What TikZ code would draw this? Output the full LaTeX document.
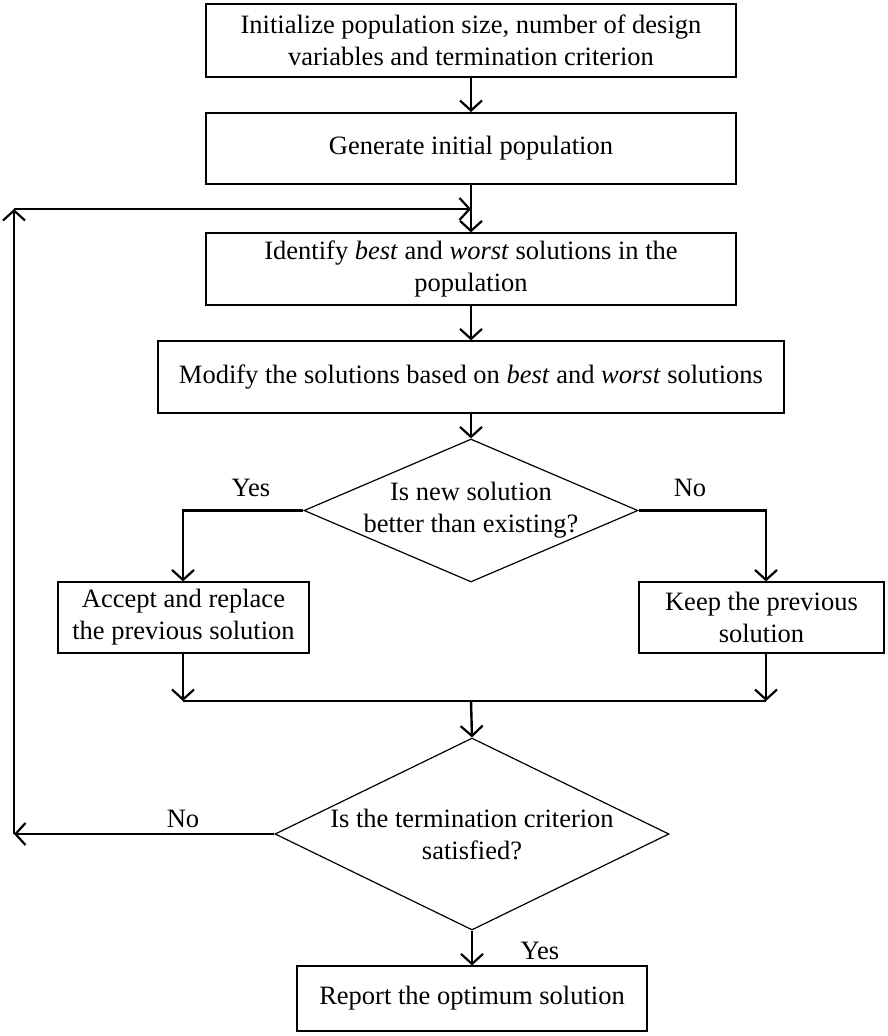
\documentclass[tikz,border=0pt]{standalone}
\usepackage{fontspec}
\setmainfont{Liberation Serif}
\usetikzlibrary{arrows.meta,positioning,calc,shapes.geometric}
\tikzset{
  block/.style    = {draw, line width=1.2pt, rectangle, align=center,
                     inner sep=0pt},
  decision/.style = {draw, line width=1.2pt, diamond, align=center,
                     inner xsep=-12pt, inner ysep=-4pt, aspect=2.2},
  sig/.style      = {-{Straight Barb[length=10pt,width=22pt,line width=2.2pt]},
                     line width=2.4pt},
  wire/.style     = {line width=2.4pt},
  lbl/.style      = {inner sep=0pt},
}

\begin{document}
\begin{tikzpicture}[x=1pt, y=-1pt, font=\fontsize{26.5}{32}\selectfont]
\useasboundingbox (0,0) rectangle (888,1036);
% ---- process boxes ----
\node[block, minimum width=530, minimum height=73] (init) at (471,40.5)
  {Initialize population size, number of design\\variables and termination criterion};
\node[block, line width=2pt, minimum width=530, minimum height=71] (gen) at (471,148.5)
  {Generate initial population};
\node[block, minimum width=530, minimum height=72] (ident) at (471,269)
  {Identify \textit{best} and \textit{worst} solutions in the\\population};
\node[block, minimum width=626, minimum height=72] (modify) at (471,377)
  {Modify the solutions based on \textit{best} and \textit{worst} solutions};
% ---- first decision and its branches ----
\node[decision, minimum width=334, minimum height=143] (better) at (471,510.5)
  {Is new solution\\better than existing?};
\node[block, minimum width=251, minimum height=71] (accept) at (183.5,617.5)
  {Accept and replace\\the previous solution};
\node[block, minimum width=245, minimum height=71] (keep) at (761.5,617.5)
  {Keep the previous\\solution};
% ---- second decision and the report ----
\node[decision, minimum width=394, minimum height=192] (stop) at (472,834)
  {Is the termination criterion\\satisfied?};
\node[block, minimum width=350, minimum height=65] (report) at (472,998.5)
  {Report the optimum solution};
% ---- labels ----
\node[lbl] (yes1) at (251,488) {Yes};
\node[lbl] (no1)  at (690,488) {No};
\node[lbl] (no2)  at (183,819) {No};
\node[lbl] (yes2) at (540,951) {Yes};
% ---- helper points ----
\coordinate (yesx)  at (183,510.5);
\coordinate (nox)   at (766,510.5);
\coordinate (joinl) at (183,701);
\coordinate (joinr) at (766,701);
\coordinate (joinc) at (471,701);
\coordinate (loopb) at (14,834);
\coordinate (loopt) at (14,209);
\coordinate (loope) at (471,209);
% ---- main flow ----
\draw[sig] (init.south) -- (gen.north);
\draw[sig] (gen.south) -- (ident.north);
\draw[sig] (ident.south) -- (modify.north);
\draw[sig] (modify.south) -- (better.north);
\draw[sig] (better.west) -- (yesx) -- (yesx |- accept.north);
\draw[sig] (better.east) -- (nox) -- (nox |- keep.north);
\draw[sig] (yesx |- accept.south) -- (joinl);
\draw[sig] (nox |- keep.south) -- (joinr);
\draw[wire] (joinl) -- (joinr);
\draw[sig] (joinc) -- (stop.north);
\draw[sig] (stop.south) -- (report.north);
% ---- loop back ----
\draw[sig] (stop.west) -- (loopb);
\draw[sig] (loopb) -- (loopt);
\draw[sig] (loopt) -- (loope);
\end{tikzpicture}
\end{document}
